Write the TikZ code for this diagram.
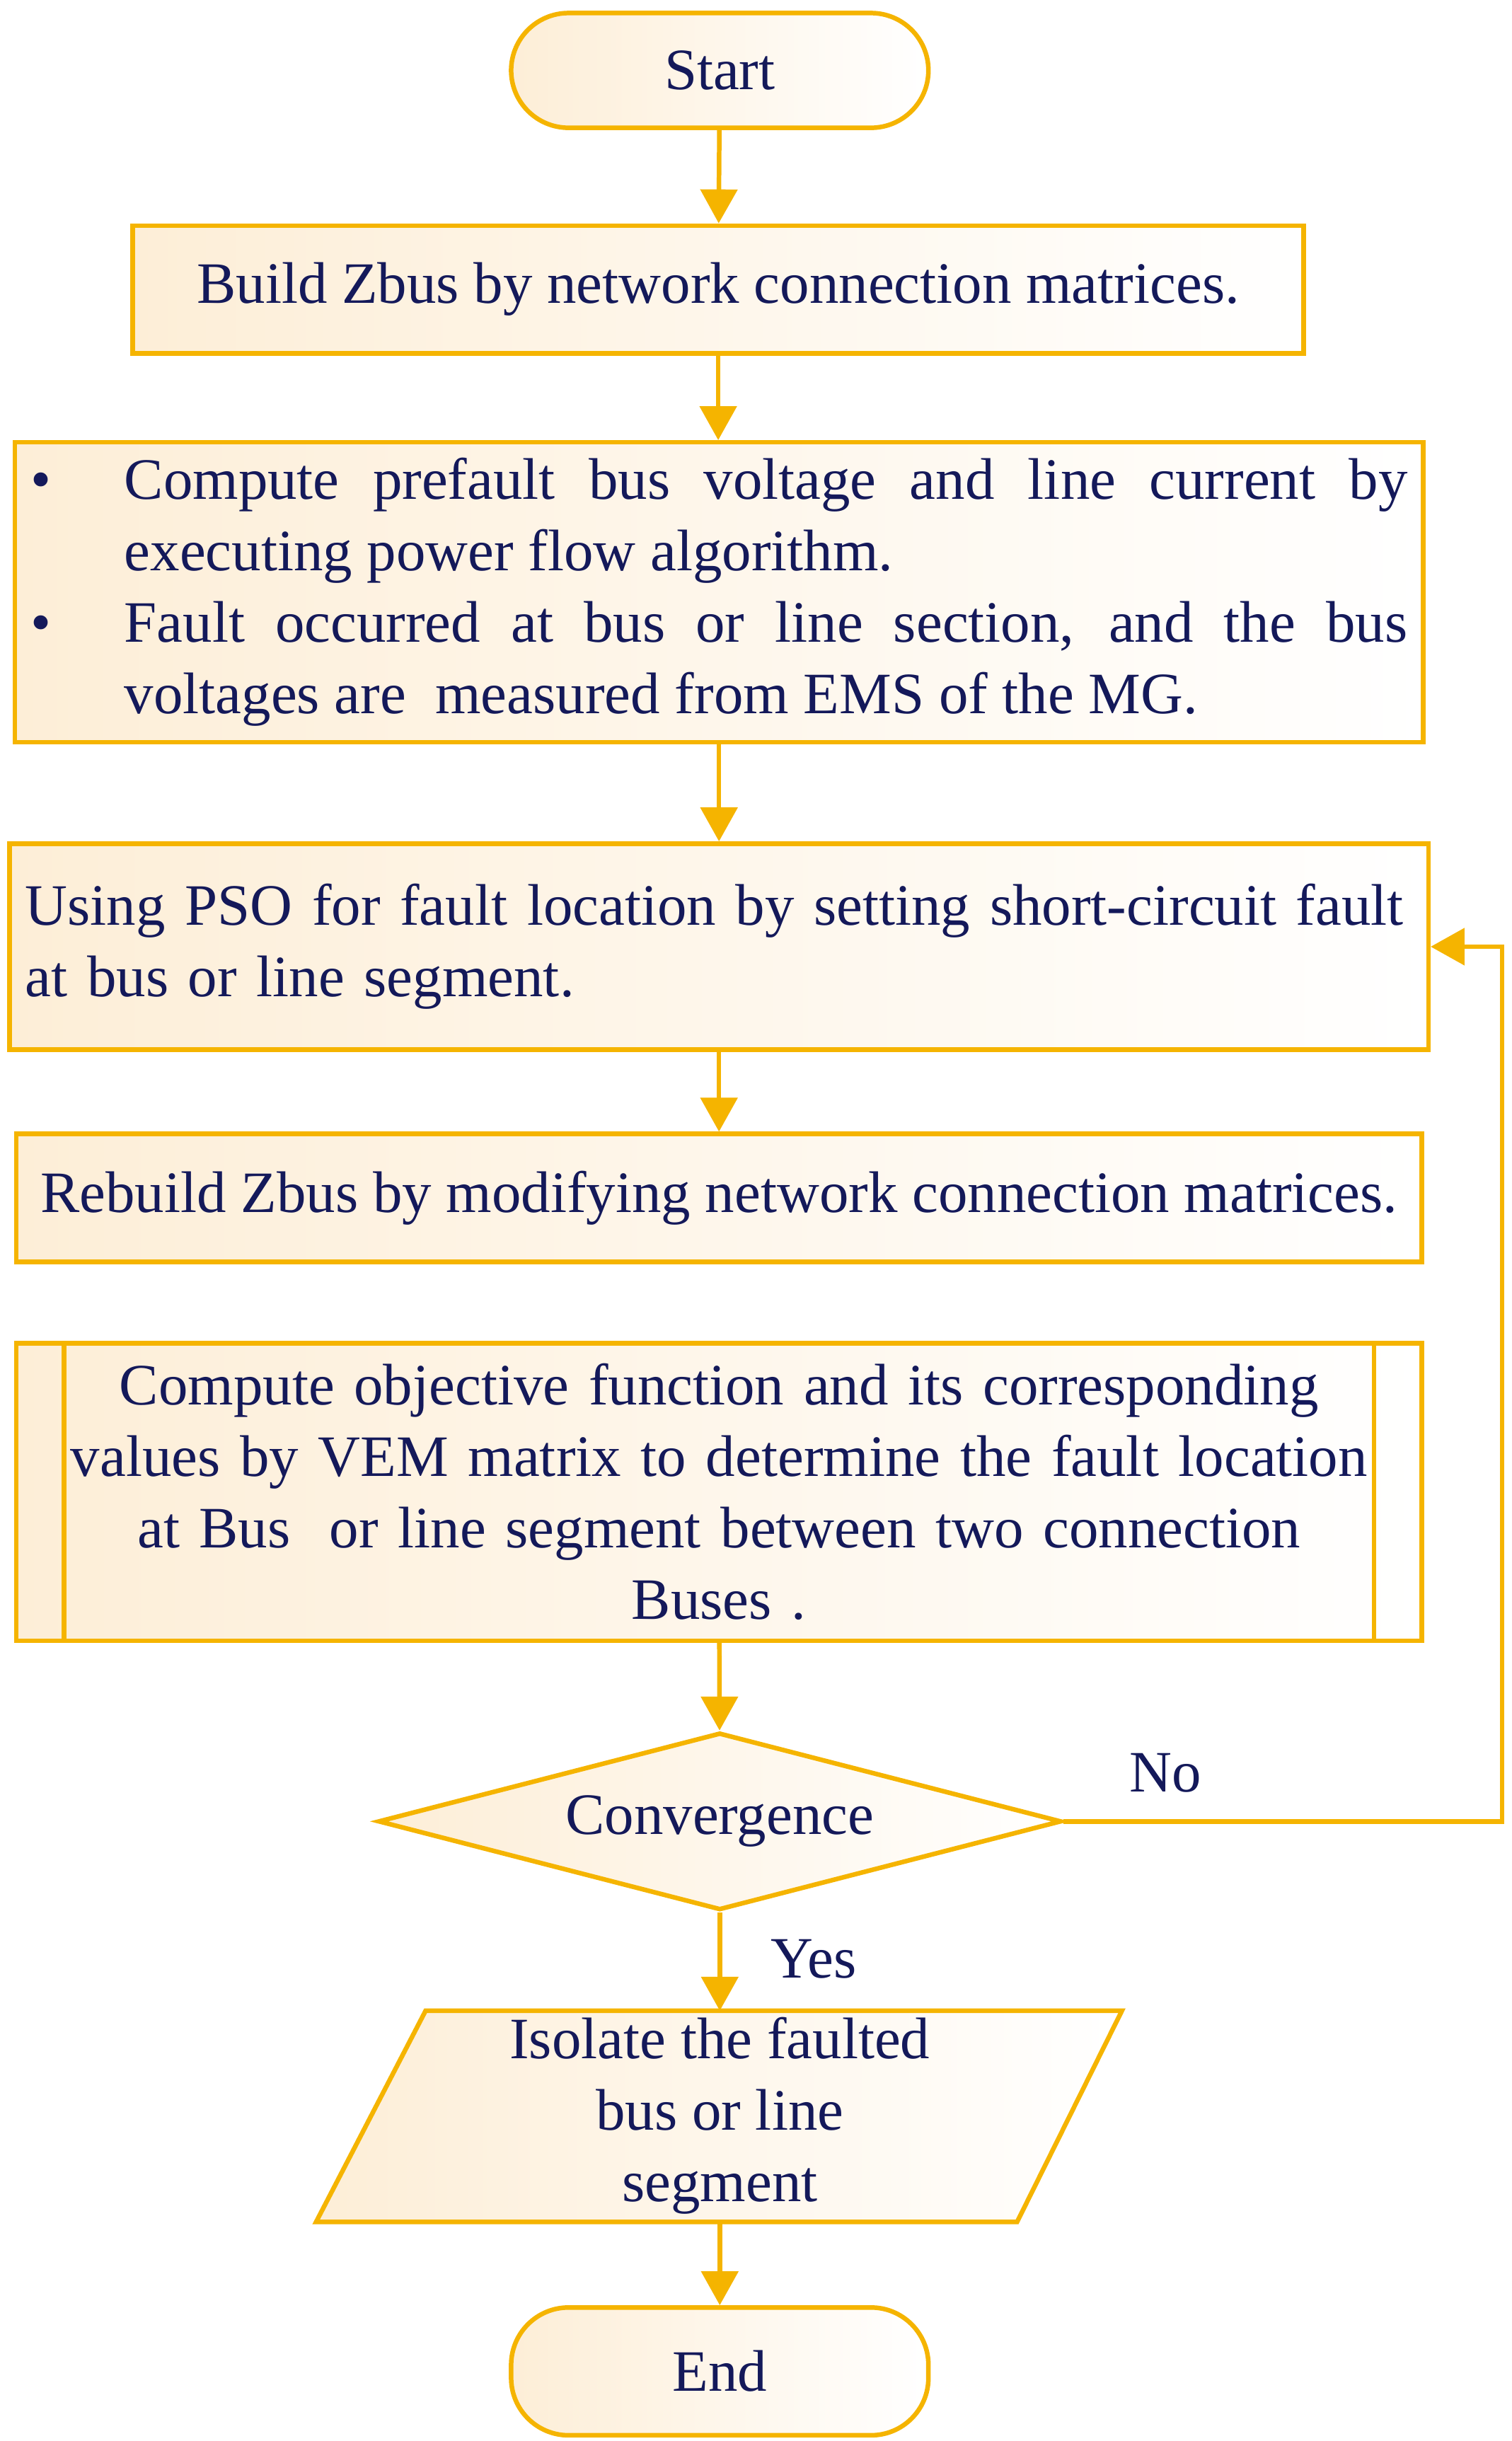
\documentclass[tikz,border=0pt]{standalone}
\usepackage{fontspec}
\setmainfont{Liberation Serif}
\usetikzlibrary{shapes.geometric,arrows.meta}
\definecolor{gold}{RGB}{245,180,0}
\definecolor{navy}{RGB}{20,25,90}
\definecolor{cream}{RGB}{253,238,215}
\hyphenpenalty=10000
\exhyphenpenalty=10000
\begin{document}
\begin{tikzpicture}[
			x=0.03cm, y=-0.03cm,
			every node/.style={font=\fontsize{32}{39}\selectfont, text=navy},
			box/.style={draw=gold, line width=2.5pt, left color=cream, right color=white, inner sep=0.3cm},
			term/.style={box, rounded corners=1.1cm, minimum width=8.0cm},
			cond/.style={box, diamond, aspect=3.8, minimum width=13.1cm, minimum height=3.4cm, inner sep=0},
			flow/.style={draw=gold, line width=2.5pt, -{Triangle[width=0.7cm,length=0.65cm]}},
			lbl/.style={fill=white, inner sep=2pt}
			]
			\useasboundingbox (0,0) rectangle (966,1560);
			
			\node[term, minimum height=2.2cm] (start) at (460,45) {Start};
			\node[box, minimum width=22.45cm, minimum height=2.45cm] (zbus) at (459,185) {Build Zbus by network connection matrices.};
			\node[box, minimum width=26.95cm, minimum height=5.7cm, text width=26.4cm, align=justify] (pre) at (459.5,378.5)
			{\hangindent=1.8cm\hangafter=1\noindent\makebox[1.8cm][l]{\textbullet}Compute prefault bus voltage and line current by\linebreak executing power flow algorithm.\par
			\hangindent=1.8cm\hangafter=1\noindent\makebox[1.8cm][l]{\textbullet}Fault occurred at bus or line section, and the bus\linebreak voltages are \ measured from EMS of the MG.\par};
			\node[box, minimum width=26.95cm, minimum height=3.95cm, text width=26.6cm, align=left] (pso) at (459.5,605)
			{Using PSO for fault location by setting short-circuit fault\\at bus or line segment.\\[0.6cm]};
			\node[box, minimum width=26.95cm, minimum height=5.7cm, text width=25.6cm, align=center] (obj) at (459.5,953.5)
			{Compute objective function and its corresponding\\values by VEM matrix to determine the fault location\\at Bus \ or line segment between two connection\\Buses .};
			\node[box, minimum width=26.95cm, minimum height=2.45cm] (rebuild) at (459.5,765.5) {Rebuild Zbus by modifying network connection matrices.};
			\draw[gold, line width=2.5pt] ([xshift=0.96cm]obj.north west) -- ([xshift=0.96cm]obj.south west)
			([xshift=-0.96cm]obj.north east) -- ([xshift=-0.96cm]obj.south east);
			\node[cond] (conv) at (460,1164) {Convergence};
			
			% parallelogram
			\coordinate (isotop) at (460,1285);
			\coordinate (isobot) at (426,1420);
			\draw[gold, line width=2.5pt, left color=cream, right color=white]
			(272,1285) -- (717,1285) -- (650,1420) -- (202,1420) -- cycle;
			\node[align=center] (iso) at (460,1352) {Isolate the faulted\\bus or line\\segment};
			\node[term, minimum height=2.45cm] (end) at (460,1515.5) {End};
			
			\draw[flow] (start) -- (zbus);
			\draw[flow] (zbus) -- (zbus.south |- pre.north);
			\draw[flow] (pre) -- (pso);
			\draw[flow] (pso) -- (rebuild);
			\draw[flow] (obj) -- (conv);
			\draw[flow] (conv) -- (isotop);
			\draw[flow] (isotop |- isobot) -- (end);
			\coordinate (loop) at (960,1164);
			\draw[flow] (conv.east) -- (loop) |- (pso.east);
			\node[lbl] (no) at (745,1133) {No};
			\node[lbl] (yes) at (520,1252) {Yes};
		\end{tikzpicture}
\end{document}
